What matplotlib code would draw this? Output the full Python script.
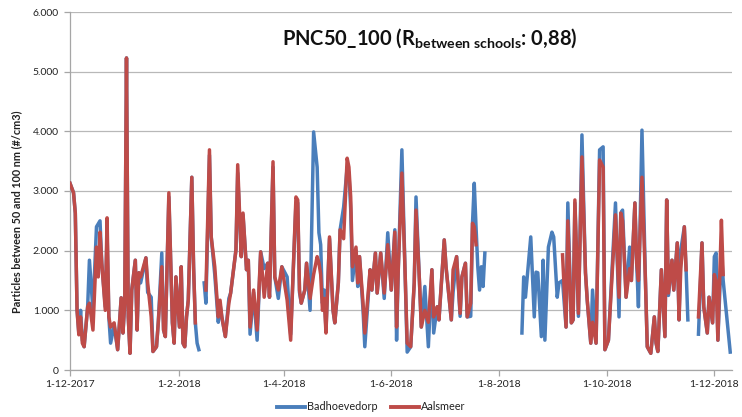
import numpy as np
import matplotlib
matplotlib.use('Agg')
import matplotlib.pyplot as plt
from matplotlib.ticker import FuncFormatter
from matplotlib.lines import Line2D
from datetime import datetime

nan = float('nan')

start_date = '2017-12-01'
series_names = ['Badhoevedorp', 'Aalsmeer']
x_tick_labels = ['1-12-2017', '1-2-2018', '1-4-2018', '1-6-2018', '1-8-2018', '1-10-2018', '1-12-2018']
y_ticks = [0, 1000, 2000, 3000, 4000, 5000, 6000]
title_main = 'PNC50_100 (R'
title_sub = 'between schools'
title_end = ': 0,88)'
y_label = 'Particles between 50 and 100 nm (#/cm3)'

day_offset = [
    0, 2, 3, 4, 5, 6, 7, 8, 10, 11, 13, 15, 16, 17, 18, 20, 21, 22, 23, 25,
    27, 29, 30, 31, 32, 33, 34, 35, 37, 38, 39, 40, 43, 44, 46, 47, 49, 50, 52, 53,
    54, 56, 58, 59, 60, 62, 63, 64, 65, 66, 67, 69, 70, 71, 72, 73, 74, 76, 77, 79,
    80, 82, 84, 85, 86, 88, 90, 91, 94, 95, 97, 98, 100, 101, 102, 104, 106, 108, 110, 112,
    113, 115, 116, 118, 120, 123, 125, 128, 129, 130, 131, 133, 134, 136, 138, 140, 141, 142, 143, 144,
    145, 147, 149, 150, 152, 153, 155, 157, 158, 159, 160, 162, 163, 164, 166, 167, 170, 171, 173, 174,
    176, 178, 180, 182, 184, 185, 186, 188, 190, 191, 193, 195, 196, 198, 199, 201, 203, 205, 206, 208,
    209, 212, 213, 216, 217, 219, 221, 222, 224, 225, 227, 228, 229, 230, 231, 232, 233, 234, 235, 236,
    256, 257, 258, 259, 261, 263, 264, 265, 267, 268, 269, 271, 273, 274, 276, 277, 279, 281, 282, 284,
    285, 286, 288, 290, 292, 293, 295, 296, 298, 300, 302, 303, 305, 309, 311, 312, 313, 315, 317, 318,
    320, 321, 322, 324, 326, 327, 329, 331, 332, 333, 335, 337, 338, 339, 341, 342, 344, 345, 346, 348,
    349, 350, 351, 356, 358, 359, 361, 362, 364, 365, 366, 367, 369, 370, 372, 374,
]

aalsmeer = [
    3130, 2970, 2630, 1000, 590, 890, 450, 390, 1060, 1120, 670, 2060, 1560, 2310, 1790, 1000, 2550, 890, 720, 790,
    340, 1210, 620, 1120, 5230, 890, 280, 1340, 1840, 670, 1630, 1560, 1880, 1460, 890, 310, 390, 790, 1730, 670,
    560, 2970, 790, 450, 1560, 720, 1730, 450, 390, 890, 1170, 3230, 1730, 790, nan, nan, nan, nan, 1340, 3690,
    2230, 1730, 890, 1170, 890, 560, 1120, 1290, 2010, 3440, 1900, 2630, 1680, 1840, 720, 1340, 670, 1980, 1220, 1790,
    1220, 3490, 1560, 1340, 1730, 1170, 500, 2900, 2850, 1340, 1120, 1340, 1790, 1200, 1600, 1900, 1800, 1600, 1000, 1200,
    620, 2230, 1000, 790, 1460, 2350, 2200, 3550, 3400, 2900, 1730, 2060, 1460, 1900, 1120, 620, 1680, 1340, 1960, 1290,
    1960, 1290, 2100, 1340, 2310, 720, 1730, 3300, 1460, 450, 390, 1460, 2680, 1460, 720, 1000, 800, 1680, 890, 1060,
    840, 2180, 1730, 840, 1680, 1900, 950, 1560, 1790, 890, 1120, 2460, 2400, 2100, nan, nan, nan, nan, nan, nan,
    nan, nan, nan, nan, nan, nan, nan, nan, nan, nan, nan, nan, nan, nan, nan, nan, 1930, 720, 2500, 790,
    840, 2850, 950, 3570, 1630, 1170, 450, 800, 450, 3520, 3400, 340, 500, 2600, 1220, 2630, 2500, 1220, 1700, 1500,
    2800, 1790, 1500, 3230, 1460, 390, 280, 890, 450, 310, 1680, 560, 2850, 1290, 1840, 1340, 2130, 840, 1700, 2400,
    1680, nan, nan, 890, 2130, 1060, 620, 1220, 790, 1600, 1500, 500, 2510, 1600, nan, nan,
]

badhoevedorp = [
    3130, 2970, 2630, 1000, 620, 1000, 500, 390, 1060, 1840, 1000, 2400, 2450, 2500, 1790, 1060, 2300, 890, 450, 750,
    340, 1210, 620, 1120, 5230, 890, 280, 1340, 1840, 670, 1630, 1460, 1880, 1300, 1220, 310, 390, 790, 1960, 670,
    560, 2900, 790, 450, 1560, 720, 1730, 450, 390, 890, 1170, 3230, 1730, 790, 450, 340, nan, 1460, 1120, 3600,
    2230, 1600, 800, 1100, 890, 560, 1200, 1290, 2010, 3300, 1900, 2600, 1680, 1840, 600, 1300, 500, 1980, 1700, 1790,
    1220, 3400, 1560, 1200, 1730, 1560, 600, 2800, 2800, 1300, 1120, 1340, 1790, 1000, 3990, 3400, 2300, 2100, 1120, 1340,
    670, 2200, 1000, 790, 1460, 2350, 2730, 3400, 3300, 2700, 1500, 2000, 1400, 1900, 1000, 390, 1680, 1340, 1960, 1290,
    1960, 1200, 2300, 1340, 2350, 500, 1730, 3690, 1460, 300, 390, 1460, 2900, 1460, 720, 1400, 390, 1680, 620, 1060,
    840, 2180, 1730, 840, 1300, 1900, 900, 1560, 1790, 890, 900, 2460, 3130, 2400, 1730, 1340, 1730, 1400, 1960, nan,
    620, 1560, 1220, 1560, 2230, 890, 1640, 1630, 560, 1840, 500, 2060, 2310, 2230, 1220, 1460, 1500, 720, 2800, 790,
    840, 2800, 900, 3940, 1630, 1170, 450, 1340, 450, 3690, 3740, 340, 500, 2800, 890, 2630, 2680, 1220, 2060, 1500,
    2800, 1790, 1060, 4020, 1460, 390, 280, 890, 450, 310, 1680, 560, 2850, 1250, 1840, 1340, 2130, 840, 2010, 2400,
    1680, 840, nan, 600, 2130, 1060, 620, 1220, 790, 1900, 1960, 500, 2000, 1500, 900, 300,
]

BLUE = '#4A7EBB'
RED = '#BE4B48'

plt.rcParams['mathtext.fontset'] = 'custom'
plt.rcParams['mathtext.rm'] = 'Lato:bold'
plt.rcParams['mathtext.it'] = 'Lato:bold'
plt.rcParams['mathtext.bf'] = 'Lato:bold'
plt.rcParams['font.family'] = ['Lato', 'DejaVu Sans']

fig = plt.figure(figsize=(7.42, 4.17), dpi=100)
ax = fig.add_axes([70 / 742, 1 - 370 / 417, (732 - 70) / 742, (370 - 12) / 417])

dates = np.datetime64(start_date) + np.array(day_offset).astype('timedelta64[D]')
ax.plot(dates, badhoevedorp, color=BLUE, lw=2.5, solid_joinstyle='round', zorder=3)
ax.plot(dates, aalsmeer, color=RED, lw=2.5, solid_joinstyle='round', zorder=4)

tick_dates = [datetime.strptime(s, '%d-%m-%Y') for s in x_tick_labels]
ax.set_xticks(tick_dates)
ax.set_xticklabels(x_tick_labels)
ax.set_xlim(np.datetime64(start_date), np.datetime64(start_date) + np.timedelta64(375, 'D'))

ax.set_ylim(y_ticks[0], y_ticks[-1])
ax.set_yticks(y_ticks)
ax.yaxis.set_major_formatter(FuncFormatter(lambda v, p: f'{int(v):,}'.replace(',', '.')))

ax.grid(axis='y', color='#B8B8B8', lw=0.9)
ax.set_axisbelow(True)
for s in ['top', 'right']:
    ax.spines[s].set_visible(False)
for s in ['left', 'bottom']:
    ax.spines[s].set_color('#A6A6A6')
    ax.spines[s].set_linewidth(0.9)
ax.tick_params(axis='both', colors='#A6A6A6', labelcolor='#222222', labelsize=7.5, length=4, width=0.9)
ax.tick_params(axis='y', pad=4)
ax.tick_params(axis='x', pad=3)

fig.text(17 / 742, 1 - 212 / 417, y_label, rotation=90, ha='center', va='center',
         fontsize=7.8, fontweight='bold', color='#222222')

fig.text(430 / 742, 1 - 38 / 417, title_main + r'$_{\mathrm{' + title_sub.replace(' ', r'\ ') + r'}}$' + title_end,
         ha='center', va='center', fontsize=14.5, fontweight='bold', color='#111111')

handles = [Line2D([], [], color=BLUE, lw=2.8), Line2D([], [], color=RED, lw=2.8)]
fig.legend(handles, series_names, loc='center', bbox_to_anchor=(0.5, 1 - 407 / 417), ncol=2, frameon=False,
           fontsize=7.8, handlelength=2.6, handletextpad=0.2, columnspacing=1.2, labelcolor='#222222')

fig.savefig('out.png', dpi=100)
